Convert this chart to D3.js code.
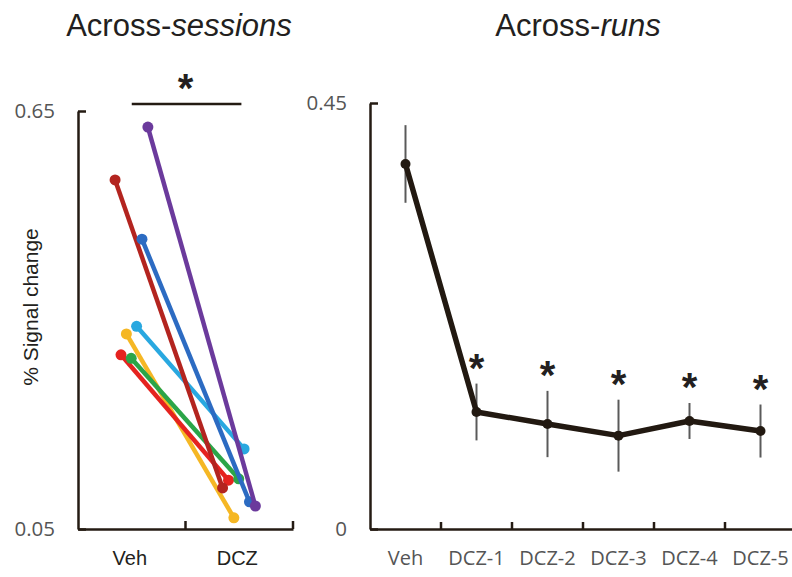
<!DOCTYPE html>
<html>
<head>
<meta charset="utf-8">
<script src="https://cdn.jsdelivr.net/npm/d3@7"></script>
<style>
  html, body { margin: 0; padding: 0; background: #ffffff; }
  svg { display: block; }
</style>
</head>
<body>
<svg id="chart" width="792" height="577"></svg>
<script>
// ---------- Data ----------
// Left panel: across sessions (one line per session)
const sessionCategories = ["Veh", "DCZ"];
const sessionNames = ["yellow", "red", "green", "lightblue", "darkred", "blue", "purple"];
const sessionVeh = [0.330, 0.300, 0.295, 0.341, 0.551, 0.466, 0.627];
const sessionDCZ = [0.066, 0.120, 0.122, 0.165, 0.109, 0.089, 0.083];
const leftTicks = [0.05, 0.65];

// Right panel: across runs (mean ± error)
const runCategories = ["Veh", "DCZ-1", "DCZ-2", "DCZ-3", "DCZ-4", "DCZ-5"];
const runMeans = [0.3856, 0.1236, 0.1109, 0.0986, 0.1141, 0.1035];
const runErrors = [0.041, 0.030, 0.035, 0.038, 0.019, 0.028];
const runSignificant = [false, true, true, true, true, true];
const rightTicks = [0, 0.45];

// ---------- Styles / layout (not data) ----------
const sessionColors = ["#F5B724", "#E5231F", "#2BA548", "#29A8E0", "#B3241F", "#2C6BC2", "#6B3A9C"];
const sessionJitter = [-0.05, -0.10, -0.005, 0.045, -0.155, 0.095, 0.15]; // fraction of band width
const axisColor = "#241b13";
const tickTextColor = "#555555";
const textColor = "#231f20";

const svg = d3.select("#chart");

// ---------- Left panel ----------
const xL = d3.scaleBand().domain(sessionCategories).range([78, 293]);
const yL = d3.scaleLinear().domain([0.05, 0.65]).range([529, 111]);

const gL = svg.append("g");

// y axis
const yAxisL = gL.append("g")
  .attr("transform", "translate(78,0)")
  .call(d3.axisLeft(yL).tickValues(leftTicks).tickFormat(d3.format(".2f"))
        .tickSizeInner(-8).tickSizeOuter(0).tickPadding(23));
yAxisL.select(".domain").attr("stroke", axisColor).attr("stroke-width", 2.5);
yAxisL.selectAll(".tick line").attr("stroke", axisColor).attr("stroke-width", 2.5);
yAxisL.selectAll(".tick text").attr("fill", tickTextColor)
  .style("font-family", "'Open Sans', sans-serif").style("font-size", "20.5px");

// x axis
const xAxisL = gL.append("g")
  .attr("transform", "translate(0,529)")
  .call(d3.axisBottom(xL).tickSize(0).tickPadding(22));
xAxisL.select(".domain").attr("stroke", axisColor).attr("stroke-width", 2.5);
xAxisL.selectAll(".tick text").attr("fill", textColor).attr("dx", -2)
  .style("font-family", "'Liberation Sans', Arial, sans-serif").style("font-size", "20px");
gL.selectAll(".xtickL")
  .data(sessionCategories)
  .join("line")
  .attr("x1", d => xL(d) + xL.bandwidth()).attr("x2", d => xL(d) + xL.bandwidth())
  .attr("y1", 529).attr("y2", 521)
  .attr("stroke", axisColor).attr("stroke-width", 2.5);

// session lines
const sessions = sessionNames.map((n, i) => ({
  name: n, veh: sessionVeh[i], dcz: sessionDCZ[i], color: sessionColors[i], jit: sessionJitter[i]
}));
const cx = (cat, jit) => xL(cat) + xL.bandwidth() / 2 + jit * xL.bandwidth();

sessions.forEach(s => {
  const g = gL.append("g");
  g.append("line")
    .attr("x1", cx("Veh", s.jit)).attr("y1", yL(s.veh))
    .attr("x2", cx("DCZ", s.jit)).attr("y2", yL(s.dcz))
    .attr("stroke", s.color).attr("stroke-width", 4.5);
  g.append("circle").attr("cx", cx("Veh", s.jit)).attr("cy", yL(s.veh)).attr("r", 5.5).attr("fill", s.color);
  g.append("circle").attr("cx", cx("DCZ", s.jit)).attr("cy", yL(s.dcz)).attr("r", 5.5).attr("fill", s.color);
});

// significance bar
gL.append("line")
  .attr("x1", xL("Veh") + xL.bandwidth() * 0.5).attr("x2", xL("DCZ") + xL.bandwidth() * 0.52)
  .attr("y1", 104).attr("y2", 104)
  .attr("stroke", axisColor).attr("stroke-width", 2.5);
gL.append("text")
  .attr("x", xL("DCZ")).attr("y", 102)
  .attr("text-anchor", "middle")
  .style("font-family", "'Liberation Sans', Arial, sans-serif").style("font-size", "40px").style("font-weight", "bold")
  .attr("fill", textColor)
  .text("*");

// title
const tL = gL.append("text").attr("x", 179).attr("y", 36).attr("text-anchor", "middle")
  .style("font-family", "'Liberation Sans', Arial, sans-serif").style("font-size", "31px").attr("fill", textColor);
tL.append("tspan").text("Across-");
tL.append("tspan").style("font-style", "italic").text("sessions");

// y label
gL.append("text")
  .attr("transform", "translate(38,307) rotate(-90)")
  .attr("text-anchor", "middle")
  .style("font-family", "'Liberation Sans', Arial, sans-serif").style("font-size", "21px")
  .attr("fill", textColor)
  .text("% Signal change");

// ---------- Right panel ----------
const xR = d3.scaleBand().domain(runCategories).range([370, 796]);
const yR = d3.scaleLinear().domain([0, 0.45]).range([529, 103]);
const gR = svg.append("g");

const yAxisR = gR.append("g")
  .attr("transform", "translate(370,0)")
  .call(d3.axisLeft(yR).tickValues(rightTicks).tickFormat(d => d === 0 ? "0" : d3.format(".2f")(d))
        .tickSizeInner(-8).tickSizeOuter(0).tickPadding(23));
yAxisR.select(".domain").attr("stroke", axisColor).attr("stroke-width", 2.5);
yAxisR.selectAll(".tick line").attr("stroke", axisColor).attr("stroke-width", 2.5);
yAxisR.selectAll(".tick text").attr("fill", tickTextColor)
  .style("font-family", "'Open Sans', sans-serif").style("font-size", "20.5px");

const xAxisR = gR.append("g")
  .attr("transform", "translate(0,529)")
  .call(d3.axisBottom(xR).tickSize(0).tickPadding(22));
xAxisR.select(".domain").attr("stroke", axisColor).attr("stroke-width", 2.5);
xAxisR.selectAll(".tick text").attr("fill", tickTextColor)
  .style("font-family", "'Open Sans', sans-serif").style("font-size", "20px");
gR.selectAll(".xtickR")
  .data(runCategories.slice(0, -1))
  .join("line")
  .attr("x1", d => xR(d) + xR.bandwidth()).attr("x2", d => xR(d) + xR.bandwidth())
  .attr("y1", 529).attr("y2", 522)
  .attr("stroke", axisColor).attr("stroke-width", 2.5);

const runs = runCategories.map((c, i) => ({ cat: c, m: runMeans[i], e: runErrors[i], sig: runSignificant[i] }));
const rx = d => xR(d.cat) + xR.bandwidth() / 2;

// error bars
gR.selectAll(".err").data(runs).join("line")
  .attr("x1", rx).attr("x2", rx)
  .attr("y1", d => yR(d.m + d.e)).attr("y2", d => yR(d.m - d.e))
  .attr("stroke", "#5a5a5a").attr("stroke-width", 2);

// mean line
gR.append("path")
  .datum(runs)
  .attr("d", d3.line().x(rx).y(d => yR(d.m)))
  .attr("fill", "none").attr("stroke", "#221911").attr("stroke-width", 5.5).attr("stroke-linejoin", "round");

gR.selectAll(".pt").data(runs).join("circle")
  .attr("cx", rx).attr("cy", d => yR(d.m)).attr("r", 5).attr("fill", "#221911");

// asterisks
gR.selectAll(".star").data(runs.filter(d => d.sig)).join("text")
  .attr("x", rx).attr("y", d => yR(d.m + d.e) - 2)
  .attr("text-anchor", "middle")
  .style("font-family", "'Liberation Sans', Arial, sans-serif").style("font-size", "40px").style("font-weight", "bold")
  .attr("fill", textColor)
  .text("*");

// title
const tR = gR.append("text").attr("x", 578).attr("y", 36).attr("text-anchor", "middle")
  .style("font-family", "'Liberation Sans', Arial, sans-serif").style("font-size", "31px").attr("fill", textColor);
tR.append("tspan").text("Across-");
tR.append("tspan").style("font-style", "italic").text("runs");
</script>
</body>
</html>
